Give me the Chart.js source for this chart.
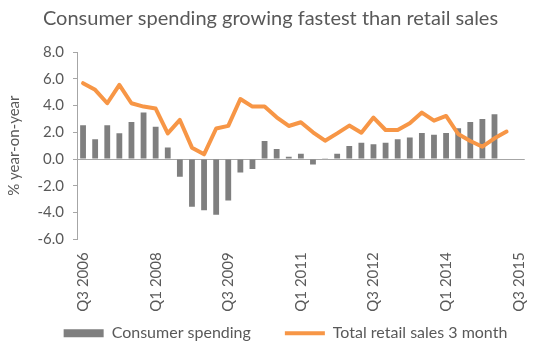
<!DOCTYPE html>
<html>
<head>
<meta charset="utf-8">
<script src="https://cdn.jsdelivr.net/npm/chart.js@4/dist/chart.umd.min.js"></script>
<style>
  html, body { margin: 0; padding: 0; background: #ffffff; }
  #wrap { width: 550px; height: 357px; position: relative; }
</style>
</head>
<body>
<div id="wrap"><canvas id="c" width="550" height="357"></canvas></div>
<script>
const quarters = [
  'Q3 2006','Q4 2006','Q1 2007','Q2 2007','Q3 2007','Q4 2007',
  'Q1 2008','Q2 2008','Q3 2008','Q4 2008','Q1 2009','Q2 2009',
  'Q3 2009','Q4 2009','Q1 2010','Q2 2010','Q3 2010','Q4 2010',
  'Q1 2011','Q2 2011','Q3 2011','Q4 2011','Q1 2012','Q2 2012',
  'Q3 2012','Q4 2012','Q1 2013','Q2 2013','Q3 2013','Q4 2013',
  'Q1 2014','Q2 2014','Q3 2014','Q4 2014','Q1 2015','Q2 2015',
  'Q3 2015'
];
const shownTickLabels = ['Q3 2006','Q1 2008','Q3 2009','Q1 2011','Q3 2012','Q1 2014','Q3 2015'];

const consumerSpending = [
  2.52, 1.47, 2.52, 1.92, 2.77, 3.47,
  2.42, 0.87, -1.32, -3.57, -3.82, -4.17,
  -3.10, -1.00, -0.75, 1.35, 0.75, 0.17,
  0.40, -0.40, 0.05, 0.40, 0.97, 1.22,
  1.10, 1.22, 1.47, 1.60, 1.95, 1.82,
  1.95, 2.30, 2.77, 3.00, 3.35, null,
  null
];
const retailSales3Month = [
  5.67, 5.17, 4.17, 5.54, 4.17, 3.92,
  3.77, 1.92, 2.92, 0.85, 0.35, 2.28,
  2.48, 4.49, 3.92, 3.92, 3.12, 2.47,
  2.75, 2.00, 1.37, 1.92, 2.50, 1.97,
  3.10, 2.17, 2.17, 2.67, 3.47, 2.87,
  3.22, 1.87, 1.35, 0.92, 1.55, 2.05,
  null
];
const yTicks = [-6, -4, -2, 0, 2, 4, 6, 8];

const FONT = 'Lato, "Open Sans", "Liberation Sans", sans-serif';
const TXT = '#595959';
const AXIS = '#a6a6a6';

// Move the legend (drawn by Chart.js) into place after layout
const legendShift = {
  id: 'legendShift',
  afterLayout(chart) {
    const lg = chart.legend;
    if (!lg) return;
    const dy = -23, dx = 15;
    lg.top += dy;
    lg.left += dx; lg.right += dx;
  }
};

new Chart(document.getElementById('c'), {
  data: {
    labels: quarters,
    datasets: [
      {
        type: 'bar',
        label: 'Consumer spending',
        data: consumerSpending,
        backgroundColor: '#7f7f7f',
        borderWidth: 0,
        barPercentage: 0.48,
        categoryPercentage: 1.0,
        order: 2
      },
      {
        type: 'line',
        label: 'Total retail sales 3 month',
        data: retailSales3Month,
        borderColor: '#f79646',
        backgroundColor: '#f79646',
        borderWidth: 4,
        pointRadius: 0,
        tension: 0,
        borderJoinStyle: 'round',
        borderCapStyle: 'round',
        order: 1
      }
    ]
  },
  plugins: [legendShift],
  options: {
    responsive: false,
    animation: false,
    devicePixelRatio: 1,
    layout: { padding: { left: 14, right: 23, top: 0, bottom: 0 } },
    plugins: {
      title: {
        display: true,
        text: 'Consumer spending growing fastest than retail sales',
        color: TXT,
        font: { family: FONT, size: 20, weight: 'normal' },
        padding: { top: 7, bottom: 21 }
      },
      legend: {
        display: true,
        position: 'bottom',
        maxHeight: 42.7,
        labels: {
          color: TXT,
          font: { family: FONT, size: 16 },
          usePointStyle: true,
          pointStyleWidth: 40,
          boxWidth: 40,
          boxHeight: 8,
          padding: 34,
          generateLabels: (chart) => {
            const items = Chart.defaults.plugins.legend.labels.generateLabels(chart);
            items.sort((a, b) => a.datasetIndex - b.datasetIndex);
            items.forEach(it => {
              if (it.datasetIndex === 0) { it.pointStyle = 'rect'; it.lineWidth = 0; it.strokeStyle = '#7f7f7f'; }
              else { it.pointStyle = 'line'; it.lineWidth = 4; }
            });
            return items;
          }
        }
      },
      tooltip: { enabled: false }
    },
    scales: {
      x: {
        grid: { display: false, drawTicks: false },
        border: { display: false },
        afterFit: (scale) => { scale.height = 75; },
        ticks: {
          autoSkip: false,
          minRotation: 90,
          maxRotation: 90,
          padding: 13,
          color: TXT,
          font: { family: FONT, size: 15 },
          callback: function(value, index) {
            const lab = quarters[index];
            return shownTickLabels.includes(lab) ? lab : '';
          }
        }
      },
      y: {
        min: -6,
        max: 8,
        afterBuildTicks: (scale) => { scale.ticks = yTicks.map(v => ({ value: v })); },
        afterFit: (scale) => { scale.width = 63; },
        border: { display: true, color: AXIS, width: 1 },
        grid: {
          drawOnChartArea: true,
          color: (ctx) => (ctx.tick && ctx.tick.value === 0) ? AXIS : 'rgba(0,0,0,0)',
          tickColor: AXIS,
          tickLength: 4,
          lineWidth: 1
        },
        ticks: {
          autoSkip: false,
          padding: 9,
          color: TXT,
          font: { family: FONT, size: 15 },
          callback: (v) => Number(v).toFixed(1)
        },
        title: {
          display: true,
          text: '% year-on-year',
          color: TXT,
          font: { family: FONT, size: 15 },
          padding: { top: -8.5, bottom: 0 }
        }
      }
    }
  }
});
</script>
</body>
</html>
